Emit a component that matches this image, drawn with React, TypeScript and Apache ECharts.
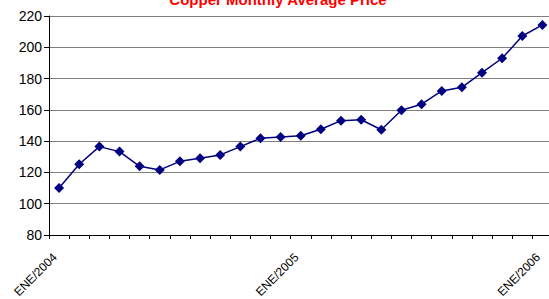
import React, { useEffect, useRef } from "react";
import * as echarts from "echarts";

const months = ["ENE", "FEB", "MAR", "ABR", "MAY", "JUN", "JUL", "AGO", "SEP", "OCT", "NOV", "DIC"];
const categories: string[] = [];
for (let y = 2004; y <= 2006; y++) {
  for (const m of months) {
    if (categories.length < 25) categories.push(`${m}/${y}`);
  }
}
const prices = [
  110, 125.2, 136.5, 133.3, 123.9, 121.6, 127.1, 129.0, 131.2, 136.5, 141.8, 142.7, 143.5,
  147.6, 153.1, 153.7, 147.3, 159.7, 163.6, 172.1, 174.4, 183.8, 193.0, 207.2, 214.3,
];
const yMin = 80;
const yMax = 220;
const yStep = 20;
const titleText = "Copper Monthly Average Price";

export default function App() {
  const ref = useRef<HTMLDivElement>(null);
  useEffect(() => {
    document.body.style.margin = "0";
    const chart = echarts.init(ref.current!, undefined, { renderer: "svg" });
    chart.setOption({
      animation: false,
      backgroundColor: "#ffffff",
      textStyle: { fontFamily: "Liberation Sans, Arial, sans-serif" },
      graphic: [
        {
          type: "text",
          x: 278,
          y: -1,
          style: {
            text: titleText,
            fill: "#ff0000",
            font: "bold 15px 'Liberation Sans', Arial, sans-serif",
            align: "center",
            verticalAlign: "middle",
          },
        },
      ],
      grid: {
        left: 49,
        top: 16,
        height: 219,
        width: 503.5,
        containLabel: false,
        outerBoundsMode: "none",
      },
      xAxis: {
        type: "category",
        data: categories,
        boundaryGap: true,
        axisLine: { lineStyle: { color: "#000", width: 1 } },
        axisTick: { show: true, interval: 0, length: 4, lineStyle: { color: "#000" } },
        axisLabel: {
          interval: 11,
          rotate: 45,
          fontSize: 12,
          color: "#000",
          margin: 16,
          padding: [0, 6, 0, 0],
          fontFamily: "Liberation Sans, Arial, sans-serif",
        },
        splitLine: { show: false },
      },
      yAxis: {
        type: "value",
        min: yMin,
        max: yMax,
        interval: yStep,
        axisLine: { show: true, lineStyle: { color: "#000", width: 1 } },
        axisTick: { show: true, length: 5, lineStyle: { color: "#000" } },
        axisLabel: {
          fontSize: 14,
          color: "#000",
          margin: 7,
          fontFamily: "Liberation Sans, Arial, sans-serif",
        },
        splitLine: { show: true, lineStyle: { color: "#808080", width: 1 } },
      },
      series: [
        {
          type: "line",
          data: prices,
          symbol: "diamond",
          symbolSize: 10,
          lineStyle: { color: "#000080", width: 1.5 },
          itemStyle: { color: "#000080" },
        },
      ],
    });
    return () => chart.dispose();
  }, []);
  return <div ref={ref} style={{ width: 549, height: 299 }} />;
}
